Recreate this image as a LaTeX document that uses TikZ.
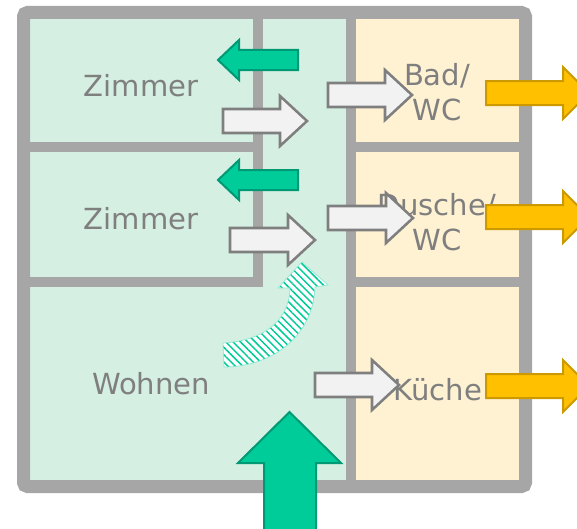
\documentclass[tikz,border=0pt]{standalone}
\usepackage{fontspec}
\setmainfont{DejaVu Sans}
\usetikzlibrary{patterns.meta}
\definecolor{roomgreen}{HTML}{D5F0E2}
\definecolor{roomyellow}{HTML}{FFF2D3}
\definecolor{wallgray}{HTML}{A6A6A6}
\definecolor{labelgray}{HTML}{7F7F7F}
\definecolor{airgreen}{HTML}{00CC99}
\definecolor{airgreendark}{HTML}{009973}
\definecolor{airyellow}{HTML}{FFC000}
\definecolor{airyellowdark}{HTML}{CC9A00}
\definecolor{airwhite}{HTML}{F2F2F2}
\tikzset{
  outerwall/.style={draw=wallgray, line width=9.75pt, rounded corners=3pt},
  innerwall/.style={draw=wallgray, line width=7.5pt},
  roomlabel/.style={text=labelgray, font=\fontsize{21.8}{26.5}\selectfont, align=center, inner sep=0pt},
  innerair/.style={draw=labelgray, fill=airwhite, line width=1.9pt, miter limit=10},
  supplyair/.style={draw=airgreendark, fill=airgreen, line width=1.5pt},
  exhaustair/.style={draw=airyellowdark, fill=airyellow, line width=1.5pt},
  overflowair/.style={draw=airgreen!45, line width=0.5pt, preaction={fill=white},
    pattern={Lines[angle=-45, distance=3.9pt, line width=1.1pt]}, pattern color=airgreen}
}
\begin{document}
\begin{tikzpicture}[x=0.75pt, y=-0.75pt]
  \useasboundingbox (0,0) rectangle (577,528);
  \clip (0,0) rectangle (577,528);
  % rooms
  \fill[roomgreen] (24,13) rectangle (351,487);
  \fill[roomyellow] (351,13) rectangle (526,487);
  % walls
  \draw[innerwall] (258,13) -- (258,282) -- (24,282);
  \draw[innerwall] (24,147) -- (258,147);
  \draw[innerwall] (351,147) -- (526,147);
  \draw[innerwall] (351,282) -- (526,282);
  \draw[innerwall] (351,13) -- (351,487);
  \draw[outerwall] (23.5,12.5) rectangle (525.5,486.5);
  % labels
  \draw
    (141,86) node[roomlabel] (zimmerA){Zimmer}
    (141,219) node[roomlabel] (zimmerB){Zimmer}
    (151,384) node[roomlabel] (wohnen){Wohnen}
    (437,92) node[roomlabel] (bad){Bad/\\WC}
    (437,222) node[roomlabel] (dusche){Dusche/\\WC}
    (438,390) node[roomlabel] (kueche){Küche};
  % air through the flat
  \foreach \tail/\tip/\y in {223/307/121, 328/412/95, 230/315/240, 328/413/218, 315/399/385}
    \draw[innerair] (\tail,\y-12) -- (\tip-27,\y-12) -- (\tip-27,\y-25) -- (\tip,\y)
      -- (\tip-27,\y+25) -- (\tip-27,\y+12) -- (\tail,\y+12) -- cycle;
  \foreach \y in {60,180}
    \draw[supplyair] (298,\y-10) -- (239,\y-10) -- (239,\y-20) -- (218,\y)
      -- (239,\y+20) -- (239,\y+10) -- (298,\y+10) -- cycle;
  \foreach \y in {93,217,386}
    \draw[exhaustair] (486,\y-12) -- (563,\y-12) -- (563,\y-26) -- (589,\y)
      -- (563,\y+26) -- (563,\y+12) -- (486,\y+12) -- cycle;
  \draw[supplyair] (264,530) -- (264,463) -- (238,463) -- (289.5,412)
    -- (341,463) -- (316,463) -- (316,530) -- cycle;
  \draw[overflowair] (223,343) .. controls (258,341) and (289,325) .. (290,288)
    -- (278,288) -- (302,262) -- (328,285) -- (315,287)
    .. controls (313,338) and (270,367) .. (224,367) -- cycle;
\end{tikzpicture}
\end{document}
